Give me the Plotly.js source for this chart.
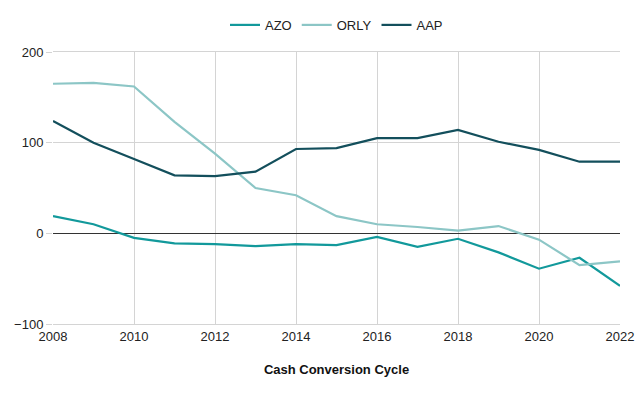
<!DOCTYPE html>
<html>
<head>
<meta charset="utf-8">
<script src="https://cdn.plot.ly/plotly-3.0.1.min.js"></script>
<style>html,body{margin:0;padding:0;background:#fff;}#chart{width:640px;height:396px;}</style>
</head>
<body>
<div id="chart"></div>
<script>
const years = [2008,2009,2010,2011,2012,2013,2014,2015,2016,2017,2018,2019,2020,2021,2022];
const azo  = [19, 10, -5, -11, -12, -14, -12, -13, -4, -15, -6, -21, -39, -27, -58];
const orly = [165, 166, 162, 123, 88, 50, 42, 19, 10, 7, 3, 8, -7, -35, -31];
const aap  = [124, 100, 82, 64, 63, 68, 93, 94, 105, 105, 114, 101, 92, 79, 79];
const names = ['AZO','ORLY','AAP'];
const colors = ['#12999b','#8cc6c6','#134f5c'];
const series = [azo, orly, aap];

const traces = series.map((s,i)=>({
  x: years, y: s, name: names[i], type:'scatter', mode:'lines',
  line:{color:colors[i], width:2.2}
}));

const layout = {
  width:640, height:396,
  margin:{l:53, r:20, t:52, b:72},
  paper_bgcolor:'#fff', plot_bgcolor:'#fff',
  font:{family:'Liberation Sans, Arial, sans-serif', size:13, color:'#222'},
  showlegend:true,
  legend:{orientation:'h', x:0.5, xanchor:'center', y:0.937, yref:'container', yanchor:'middle',
          font:{size:13, color:'#222'}, itemwidth:30, traceorder:'normal'},
  xaxis:{range:[2008,2022], dtick:2, tick0:2008, showgrid:true, gridcolor:'#d4d4d4', gridwidth:1,
         zeroline:false, showline:true, linecolor:'#d4d4d4', mirror:true, ticks:'', 
         tickfont:{size:13, color:'#222'},
         title:{text:'<b>Cash Conversion Cycle</b>', font:{size:13, color:'#111'}, standoff:22}},
  yaxis:{range:[-100,200], dtick:100, showgrid:true, gridcolor:'#d4d4d4', gridwidth:1,
         zeroline:true, zerolinecolor:'#333', zerolinewidth:1, showline:false,
         ticks:'outside', ticklen:6, tickcolor:'#d4d4d4', tickfont:{size:13, color:'#222'}}
};

Plotly.newPlot('chart', traces, layout, {displayModeBar:false, staticPlot:true});
</script>
</body>
</html>
